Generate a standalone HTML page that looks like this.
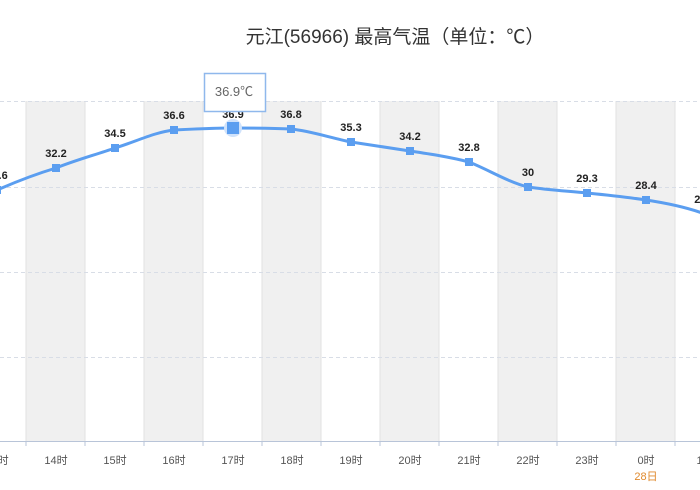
<!DOCTYPE html>
<html><head><meta charset="utf-8"><style>
body{margin:0;background:#fff;}
svg{display:block;font-family:"Liberation Sans","Noto Sans CJK SC",sans-serif;}
</style></head><body>
<svg width="700" height="490" viewBox="0 0 700 490">
<text x="395" y="43" text-anchor="middle" font-size="19" fill="#333">元江(56966) 最高气温（单位：℃）</text>
<g fill="#f0f0f0">
<rect x="26" y="101" width="59" height="340"/><rect x="144" y="101" width="59" height="340"/>
<rect x="262" y="101" width="59" height="340"/><rect x="380" y="101" width="59" height="340"/>
<rect x="498" y="101" width="59" height="340"/><rect x="616" y="101" width="59" height="340"/>
</g>
<g stroke="#e2e2e2" stroke-width="1">
<line x1="26" y1="101" x2="26" y2="441"/><line x1="85" y1="101" x2="85" y2="441"/><line x1="144" y1="101" x2="144" y2="441"/><line x1="203" y1="101" x2="203" y2="441"/><line x1="262" y1="101" x2="262" y2="441"/><line x1="321" y1="101" x2="321" y2="441"/><line x1="380" y1="101" x2="380" y2="441"/><line x1="439" y1="101" x2="439" y2="441"/><line x1="498" y1="101" x2="498" y2="441"/><line x1="557" y1="101" x2="557" y2="441"/><line x1="616" y1="101" x2="616" y2="441"/><line x1="675" y1="101" x2="675" y2="441"/>
</g>
<g stroke="#d8dde6" stroke-dasharray="4,3">
<line x1="0" y1="101.5" x2="700" y2="101.5"/><line x1="0" y1="187.5" x2="700" y2="187.5"/><line x1="0" y1="272.5" x2="700" y2="272.5"/><line x1="0" y1="357.5" x2="700" y2="357.5"/>
</g>
<line x1="0" y1="441.5" x2="700" y2="441.5" stroke="#b8c4d8"/>
<g stroke="#b8c4d8"><line x1="26" y1="441" x2="26" y2="446"/><line x1="85" y1="441" x2="85" y2="446"/><line x1="144" y1="441" x2="144" y2="446"/><line x1="203" y1="441" x2="203" y2="446"/><line x1="262" y1="441" x2="262" y2="446"/><line x1="321" y1="441" x2="321" y2="446"/><line x1="380" y1="441" x2="380" y2="446"/><line x1="439" y1="441" x2="439" y2="446"/><line x1="498" y1="441" x2="498" y2="446"/><line x1="557" y1="441" x2="557" y2="446"/><line x1="616" y1="441" x2="616" y2="446"/><line x1="675" y1="441" x2="675" y2="446"/></g>
<g font-size="11" fill="#555" text-anchor="middle">
<text x="-3" y="464">13时</text><text x="56" y="464">14时</text><text x="115" y="464">15时</text><text x="174" y="464">16时</text><text x="233" y="464">17时</text><text x="292" y="464">18时</text><text x="351" y="464">19时</text><text x="410" y="464">20时</text><text x="469" y="464">21时</text><text x="528" y="464">22时</text><text x="587" y="464">23时</text><text x="646" y="464">0时</text><text x="705" y="464">1时</text>
<text x="646" y="480" fill="#e08a2e">28日</text>
</g>
<path d="M-3,190 C20,180 36,174 56,168 C76,160 95,155 115,148 C135,142 155,132 174,130 C194,129 213,128 233,128 C253,128 272,128 291,129 C311,131 331,138 351,142 C371,145 390,148 410,151 C430,154 450,157 469,162 C489,170 508,182 528,187 C548,190 567,191 587,193 C607,195 626,197 646,200 C666,203 686,207 705,214" fill="none" stroke="#5b9ef0" stroke-width="3"/>
<g fill="#5b9ef0">
<rect x="52" y="164" width="8" height="8"/><rect x="111" y="144" width="8" height="8"/><rect x="170" y="126" width="8" height="8"/><rect x="287" y="125" width="8" height="8"/><rect x="347" y="138" width="8" height="8"/><rect x="406" y="147" width="8" height="8"/><rect x="465" y="158" width="8" height="8"/><rect x="524" y="183" width="8" height="8"/><rect x="583" y="189" width="8" height="8"/><rect x="642" y="196" width="8" height="8"/><rect x="-7" y="186" width="8" height="8"/>
<circle cx="233" cy="128" r="9" fill="#cfe2fb"/><rect x="227" y="122" width="12" height="12"/>
</g>
<g font-size="11" font-weight="bold" fill="#222" text-anchor="middle">
<text x="-3" y="179">29.6</text><text x="56" y="157">32.2</text><text x="115" y="137">34.5</text><text x="174" y="119">36.6</text><text x="233" y="118">36.9</text><text x="291" y="118">36.8</text><text x="351" y="131">35.3</text><text x="410" y="140">34.2</text><text x="469" y="151">32.8</text><text x="528" y="176">30</text><text x="587" y="182">29.3</text><text x="646" y="189">28.4</text><text x="705" y="203">27.3</text>
</g>
<rect x="204.5" y="73.5" width="61" height="38" fill="#fff" stroke="#8fb8ec" stroke-width="1.5"/>
<text x="234" y="96" text-anchor="middle" font-size="13" fill="#666">36.9℃</text>
</svg>
</body></html>
